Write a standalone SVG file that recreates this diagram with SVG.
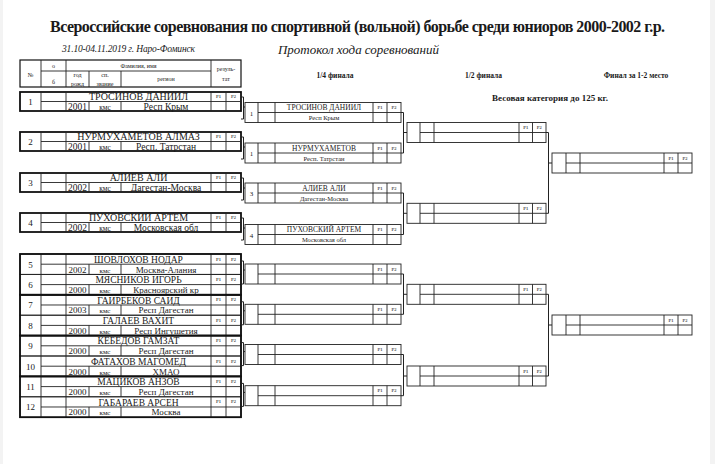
<svg xmlns="http://www.w3.org/2000/svg" width="715" height="464" viewBox="0 0 715 464">
<style>
text{font-family:"Liberation Serif","Times New Roman",serif;fill:#1a1a1a}
.ln{fill:none;stroke:#222;stroke-width:0.9}
.thk{fill:none;stroke:#111;stroke-width:1.8}
.pl{font-size:4.5px;font-weight:bold;fill:#555;text-anchor:middle}
.num{font-size:9px;text-anchor:middle}
.nm{font-size:10px;text-anchor:middle}
.sm{font-size:9.5px;text-anchor:middle}
.km{font-size:7.5px;text-anchor:middle}
.nmL{font-size:9.5px;text-anchor:middle}
.smL{font-size:9px;text-anchor:middle}
.kmL{font-size:7px;text-anchor:middle}
.qn{font-size:7.5px;text-anchor:middle}
.qr{font-size:6.5px;text-anchor:middle}
.qi{font-size:7px;text-anchor:middle}
.hd{font-size:6px;text-anchor:middle}
.rd{font-size:7.5px;font-weight:bold;text-anchor:middle}
.conn{fill:none;stroke:#222;stroke-width:1}
</style>
<defs>
<g id="efT">
<rect class="thk" x="0" y="0" width="221" height="19"/>
<path class="ln" d="M21 0V19M46 0V19M191 0V19M206 0V19M21 9.5H221M69 9.5V19M101 9.5V19"/>
<text class="pl" x="198.5" y="6.3">P1</text><text class="pl" x="213.5" y="6.3">P2</text>
</g>
<g id="efL">
<rect class="ln" x="0" y="0" width="221" height="20.4"/>
<path class="ln" d="M21 0V20.4M46 0V20.4M191 0V20.4M206 0V20.4M21 10.2H221M69 10.2V20.4M101 10.2V20.4"/>
<text class="pl" x="198.5" y="6.5">P1</text><text class="pl" x="213.5" y="6.5">P2</text>
</g>
<g id="qf">
<rect class="ln" x="0" y="0" width="156" height="20"/>
<path class="ln" d="M13 0V20M30 0V20M128 0V20M142 0V20M13 10H156"/>
<text class="pl" x="135" y="6.5">P1</text><text class="pl" x="149" y="6.5">P2</text>
</g>
<g id="sf">
<rect class="ln" x="0" y="0" width="139" height="20"/>
<path class="ln" d="M13 0V20M27 0V20M112 0V20M125.5 0V20M13 10H139"/>
<text class="pl" x="118.8" y="6.5">P1</text><text class="pl" x="132.3" y="6.5">P2</text>
</g>
<g id="ff">
<rect class="ln" x="0" y="0" width="140" height="20"/>
<path class="ln" d="M14 0V20M28 0V20M112 0V20M126 0V20M14 10H140"/>
<text class="pl" x="119" y="6.5">P1</text><text class="pl" x="133" y="6.5">P2</text>
</g>
</defs>
<rect x="0" y="0" width="715" height="464" fill="#ffffff"/>
<rect x="0" y="0" width="3" height="464" fill="#f3f3f3"/>
<rect x="710" y="0" width="5" height="464" fill="#f3f3f3"/>

<g id="titles">
<text x="357.5" y="32" text-anchor="middle" font-size="16" font-weight="bold" textLength="615">Всероссийские соревнования по спортивной (вольной) борьбе среди юниоров 2000-2002 г.р.</text>
<text x="128.5" y="52" text-anchor="middle" font-size="9.5" font-style="italic" textLength="133">31.10-04.11.2019 г. Наро-Фоминск</text>
<text x="358.5" y="54" text-anchor="middle" font-size="13" font-style="italic" fill="#333" textLength="161">Протокол хода соревнований</text>
<text class="rd" x="335" y="78">1/4 финала</text>
<text class="rd" x="483.5" y="78">1/2 финала</text>
<text class="rd" x="636" y="78">Финал за 1-2 место</text>
<text x="550" y="101" text-anchor="middle" font-size="9" font-weight="bold">Весовая категория до 125 кг.</text>
</g>

<g id="header-table">
<rect x="20" y="60" width="221" height="27" fill="none" stroke="#111" stroke-width="1.2"/>
<path class="ln" d="M41 60V87M66 60V87M211 60V87M41 71H211M89 71V87M121 71V87"/>
<text class="hd" x="30.5" y="77" font-size="7">№</text>
<text class="hd" x="53.5" y="68">о</text>
<text class="hd" x="53.5" y="84">б</text>
<text class="hd" x="138.5" y="68">Фамилия, имя</text>
<text class="hd" x="77.5" y="77">год</text>
<text class="hd" x="77.5" y="85.5">рожд</text>
<text class="hd" x="105" y="77">сп.</text>
<text class="hd" x="105" y="85.5">звание</text>
<text class="hd" x="166" y="81">регион</text>
<text class="hd" x="226" y="70.5">резуль-</text>
<text class="hd" x="226" y="81">тат</text>
</g>

<g id="p1" transform="translate(20,92)"><use href="#efT"/>
<text class="num" x="10.5" y="13">1</text><text class="nm" x="118.5" y="8">ТРОСИНОВ ДАНИИЛ</text>
<text class="sm" x="57.5" y="18">2001</text><text class="km" x="85" y="18">кмс</text><text class="sm" x="146" y="18">Респ Крым</text></g>
<g id="p2" transform="translate(20,132)"><use href="#efT"/>
<text class="num" x="10.5" y="13">2</text><text class="nm" x="118.5" y="8">НУРМУХАМЕТОВ АЛМАЗ</text>
<text class="sm" x="57.5" y="18">2001</text><text class="km" x="85" y="18">кмс</text><text class="sm" x="146" y="18">Респ. Татрстан</text></g>
<g id="p3" transform="translate(20,173)"><use href="#efT"/>
<text class="num" x="10.5" y="13">3</text><text class="nm" x="118.5" y="8">АЛИЕВ АЛИ</text>
<text class="sm" x="57.5" y="18">2002</text><text class="km" x="85" y="18">кмс</text><text class="sm" x="146" y="18">Дагестан-Москва</text></g>
<g id="p4" transform="translate(20,213)"><use href="#efT"/>
<text class="num" x="10.5" y="13">4</text><text class="nm" x="118.5" y="8">ПУХОВСКИЙ АРТЕМ</text>
<text class="sm" x="57.5" y="18">2002</text><text class="km" x="85" y="18">кмс</text><text class="sm" x="146" y="18">Московская обл</text></g>

<g id="p5" transform="translate(20,254)"><use href="#efL"/>
<text class="num" x="10.5" y="13.5">5</text><text class="nmL" x="118.5" y="8.8">ШОВЛОХОВ НОДАР</text>
<text class="smL" x="57.5" y="18.6">2002</text><text class="kmL" x="85" y="18.6">кмс</text><text class="smL" x="146" y="18.6">Москва-Алания</text></g>
<g id="p6" transform="translate(20,274.4)"><use href="#efL"/>
<text class="num" x="10.5" y="13.5">6</text><text class="nmL" x="118.5" y="8.8">МЯСНИКОВ ИГОРЬ</text>
<text class="smL" x="57.5" y="18.6">2000</text><text class="kmL" x="85" y="18.6">кмс</text><text class="smL" x="146" y="18.6">Красноярский кр</text></g>
<g id="p7" transform="translate(20,294.8)"><use href="#efL"/>
<text class="num" x="10.5" y="13.5">7</text><text class="nmL" x="118.5" y="8.8">ГАИРБЕКОВ САИД</text>
<text class="smL" x="57.5" y="18.6">2003</text><text class="kmL" x="85" y="18.6">кмс</text><text class="smL" x="146" y="18.6">Респ Дагестан</text></g>
<g id="p8" transform="translate(20,315.2)"><use href="#efL"/>
<text class="num" x="10.5" y="13.5">8</text><text class="nmL" x="118.5" y="8.8">ГАЛАЕВ ВАХИТ</text>
<text class="smL" x="57.5" y="18.6">2000</text><text class="kmL" x="85" y="18.6">кмс</text><text class="smL" x="146" y="18.6">Респ Ингушетия</text></g>
<g id="p9" transform="translate(20,335.6)"><use href="#efL"/>
<text class="num" x="10.5" y="13.5">9</text><text class="nmL" x="118.5" y="8.8">КЕБЕДОВ ГАМЗАТ</text>
<text class="smL" x="57.5" y="18.6">2000</text><text class="kmL" x="85" y="18.6">кмс</text><text class="smL" x="146" y="18.6">Респ Дагестан</text></g>
<g id="p10" transform="translate(20,356)"><use href="#efL"/>
<text class="num" x="10.5" y="13.5">10</text><text class="nmL" x="118.5" y="8.8">ФАТАХОВ МАГОМЕД</text>
<text class="smL" x="57.5" y="18.6">2000</text><text class="kmL" x="85" y="18.6">кмс</text><text class="smL" x="146" y="18.6">ХМАО</text></g>
<g id="p11" transform="translate(20,376.4)"><use href="#efL"/>
<text class="num" x="10.5" y="13.5">11</text><text class="nmL" x="118.5" y="8.8">МАЦИКОВ АНЗОВ</text>
<text class="smL" x="57.5" y="18.6">2000</text><text class="kmL" x="85" y="18.6">кмс</text><text class="smL" x="146" y="18.6">Респ Дагестан</text></g>
<g id="p12" transform="translate(20,396.8)"><use href="#efL"/>
<text class="num" x="10.5" y="13.5">12</text><text class="nmL" x="118.5" y="8.8">ГАБАРАЕВ АРСЕН</text>
<text class="smL" x="57.5" y="18.6">2000</text><text class="kmL" x="85" y="18.6">кмс</text><text class="smL" x="146" y="18.6">Москва</text></g>

<g id="lower-pairs">
<rect class="thk" x="20" y="254" width="221" height="40.8"/>
<rect class="thk" x="20" y="294.8" width="221" height="40.8"/>
<rect class="thk" x="20" y="335.6" width="221" height="40.8"/>
<rect class="thk" x="20" y="376.4" width="221" height="40.8"/>
</g>

<g id="q1" transform="translate(245,102.5)"><use href="#qf"/>
<text class="qi" x="6.5" y="13">1</text><text class="qn" x="79" y="7.8">ТРОСИНОВ ДАНИИЛ</text><text class="qr" x="79" y="17.5">Респ Крым</text></g>
<g id="q2" transform="translate(245,143)"><use href="#qf"/>
<text class="qi" x="6.5" y="13">1</text><text class="qn" x="79" y="7.8">НУРМУХАМЕТОВ</text><text class="qr" x="79" y="17.5">Респ. Татрстан</text></g>
<g id="q3" transform="translate(245,183)"><use href="#qf"/>
<text class="qi" x="6.5" y="13">3</text><text class="qn" x="79" y="7.8">АЛИЕВ АЛИ</text><text class="qr" x="79" y="17.5">Дагестан-Москва</text></g>
<g id="q4" transform="translate(245,224.5)"><use href="#qf"/>
<text class="qi" x="6.5" y="13">4</text><text class="qn" x="79" y="7.8">ПУХОВСКИЙ АРТЕМ</text><text class="qr" x="79" y="17.5">Московская обл</text></g>
<g id="q5" transform="translate(245,264)"><use href="#qf"/></g>
<g id="q6" transform="translate(245,304.3)"><use href="#qf"/></g>
<g id="q7" transform="translate(245,344.5)"><use href="#qf"/></g>
<g id="q8" transform="translate(245,385.7)"><use href="#qf"/></g>

<g id="s1" transform="translate(407,122.5)"><use href="#sf"/></g>
<g id="s2" transform="translate(407,203.3)"><use href="#sf"/></g>
<g id="s3" transform="translate(407,284.3)"><use href="#sf"/></g>
<g id="s4" transform="translate(407,366)"><use href="#sf"/></g>

<g id="f1" transform="translate(552,153)"><use href="#ff"/></g>
<g id="f2" transform="translate(552,315)"><use href="#ff"/></g>

<g id="connectors" class="conn">
<path d="M241 97H243.5V119H241M243.5 107H245"/>
<path d="M241 137H243.5V159H241M243.5 147H245"/>
<path d="M241 178H243.5V200H241M243.5 188H245"/>
<path d="M241 218H243.5V240H241M243.5 228H245"/>
<path d="M241 261H243.5V284H241M243.5 270H245"/>
<path d="M241 301.8H243.5V324.8H241M243.5 310.8H245"/>
<path d="M241 342.6H243.5V365.6H241M243.5 351.6H245"/>
<path d="M241 383.4H243.5V406.4H241M243.5 392.4H245"/>
<path d="M401 112.5H403.5V153H401M403.5 132.5H407"/>
<path d="M401 193H403.5V234.5H401M403.5 213.3H407"/>
<path d="M401 274H403.5V314.3H401M403.5 294.3H407"/>
<path d="M401 354.5H403.5V395.7H401M403.5 376H407"/>
<path d="M546 132.5H548.5V213.3H546M548.5 163H552"/>
<path d="M546 294.3H548.5V376H546M548.5 325H552"/>
</g>
</svg>
